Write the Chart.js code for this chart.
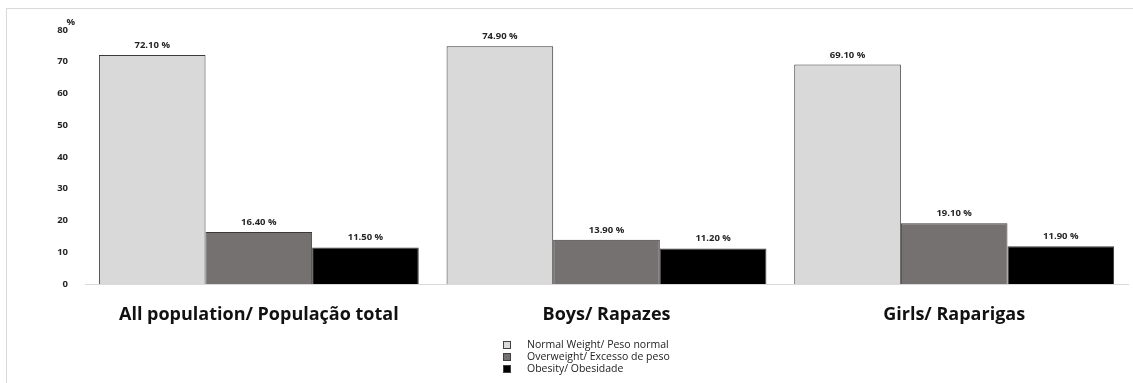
<!DOCTYPE html>
<html>
<head>
<meta charset="utf-8">
<script src="https://cdn.jsdelivr.net/npm/chart.js@4"></script>
<style>
  body { margin: 0; background: #fff; }
  #wrap { position: relative; width: 1133px; height: 383px; overflow: hidden; }
  #frame { position: absolute; left: 6px; top: 8px; width: 1130px; height: 400px; border: 1px solid #d9d9d9; box-sizing: border-box; }
  #legend { position: absolute; left: 500px; top: 338px; font-family: "Open Sans", sans-serif; font-size: 10.5px; color: #222; }
  #legend .row { position: relative; height: 12px; line-height: 12px; white-space: nowrap; padding-left: 27px; }
  #legend .box { position: absolute; left: 3px; top: 3px; width: 6px; height: 6px; border: 1px solid #404040; }
</style>
</head>
<body>
<div id="wrap">
  <div id="frame"></div>
  <canvas id="bars" width="1133" height="383"></canvas>
  <div id="legend"></div>
</div>
<script>
const categories = ['All population/ População total', 'Boys/ Rapazes', 'Girls/ Raparigas'];
const seriesNames = ['Normal Weight/ Peso normal', 'Overweight/ Excesso de peso', 'Obesity/ Obesidade'];
const normalWeight = [72.1, 74.9, 69.1];
const overweight = [16.4, 13.9, 19.1];
const obesity = [11.5, 11.2, 11.9];
const yTicks = [0, 10, 20, 30, 40, 50, 60, 70, 80];
const colors = ['#d9d9d9', '#767171', '#000000'];

const valueLabels = {
  id: 'valueLabels',
  afterDatasetsDraw(chart) {
    const c = chart.ctx;
    c.save();
    c.font = 'bold 9.5px "Open Sans", sans-serif';
    c.fillStyle = '#262626';
    c.textAlign = 'center';
    c.textBaseline = 'bottom';
    chart.data.datasets.forEach((ds, i) => {
      chart.getDatasetMeta(i).data.forEach((bar, j) => {
        c.fillText(ds.data[j].toFixed(2) + ' %', bar.x, bar.y - 5);
      });
    });
    // unit above the y axis
    c.font = 'bold 9.5px "Open Sans", sans-serif';
    c.textAlign = 'right';
    c.textBaseline = 'middle';
    c.fillText('%', 75, chart.chartArea.top - 8);
    c.restore();
  }
};

const data = [normalWeight, overweight, obesity];
const chart = new Chart(document.getElementById('bars'), {
  type: 'bar',
  data: {
    labels: categories,
    datasets: seriesNames.map((name, i) => ({
      label: name,
      data: data[i],
      backgroundColor: colors[i],
      borderColor: '#3a3a3a',
      borderWidth: 1,
      categoryPercentage: 0.92,
      barPercentage: 1
    }))
  },
  options: {
    responsive: false,
    animation: false,
    layout: { padding: { top: 30, right: 5, left: 0, bottom: 0 } },
    plugins: { legend: { display: false }, tooltip: { enabled: false } },
    scales: {
      x: {
        grid: { display: false },
        border: { color: '#d9d9d9' },
        ticks: { color: '#111', font: { family: '"Open Sans", sans-serif', size: 18, weight: 'bold' }, padding: 12 },
        afterFit(s) { s.height = 99; }
      },
      y: {
        min: 0, max: 80,
        afterBuildTicks(s) { s.ticks = yTicks.map(v => ({ value: v })); },
        grid: { display: false },
        border: { display: false },
        ticks: { color: '#262626', font: { family: '"Open Sans", sans-serif', size: 9.5, weight: 'bold' }, padding: 9 },
        afterFit(s) { s.width = 85; }
      }
    }
  },
  plugins: [valueLabels]
});

const legend = document.getElementById('legend');
seriesNames.forEach((name, i) => {
  const row = document.createElement('div');
  row.className = 'row';
  const box = document.createElement('span');
  box.className = 'box';
  box.style.background = colors[i];
  row.appendChild(box);
  row.appendChild(document.createTextNode(name));
  legend.appendChild(row);
});
</script>
</body>
</html>
